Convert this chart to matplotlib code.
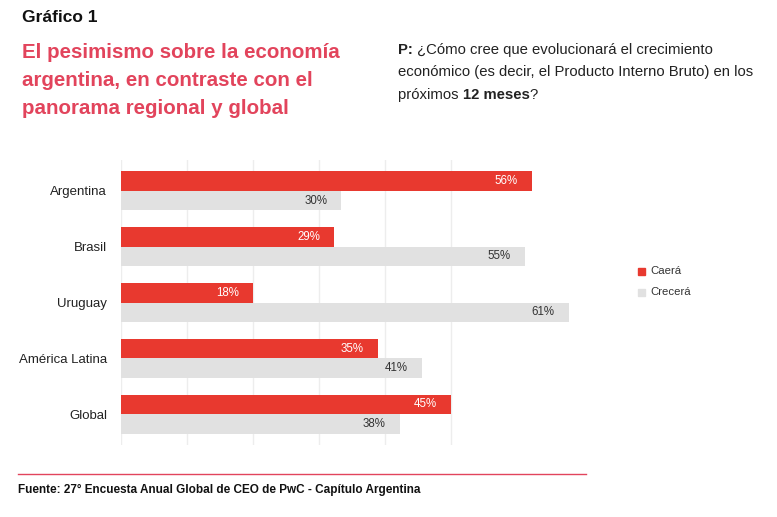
import matplotlib.pyplot as plt
import numpy as np

plt.rcParams['font.family'] = ['Liberation Sans', 'DejaVu Sans']

# Data
paises = ["Argentina", "Brasil", "Uruguay", "América Latina", "Global"]
caera = [56, 29, 18, 35, 45]
crecera = [30, 55, 61, 41, 38]

rojo = "#e8392f"
gris = "#e1e1e1"
rosa = "#e2445c"

fig = plt.figure(figsize=(7.77, 5.17), dpi=100)
ax = fig.add_axes([121 / 777, 1 - 445 / 517, 499 / 777, 285 / 517])

y = np.arange(len(paises))
h = 0.35
ax.barh(y - h / 2, caera, height=h, color=rojo, zorder=2)
ax.barh(y + h / 2, crecera, height=h, color=gris, zorder=2)

for i in range(len(paises)):
    ax.text(caera[i] - 1.9, y[i] - h / 2, f"{caera[i]}%", ha="right", va="center",
            color="white", fontsize=8.3, zorder=3)
    ax.text(crecera[i] - 1.9, y[i] + h / 2, f"{crecera[i]}%", ha="right", va="center",
            color="#333333", fontsize=8.3, zorder=3)

ax.set_xlim(0, 68)
ax.set_ylim(len(paises) - 0.45, -0.55)
ax.set_yticks(y)
ax.set_yticklabels(paises, fontsize=9.5, color="#222222")
ax.set_xticks(np.arange(0, 46, 9))
ax.set_xticklabels([])
ax.tick_params(length=0, axis="both", pad=17)
ax.tick_params(axis="y", pad=17 - 7)
ax.grid(axis="x", color="#ededed", linewidth=1, zorder=0)
for s in ax.spines.values():
    s.set_visible(False)

# Legend
fig.patches.append(plt.Rectangle((638 / 777, 1 - 275 / 517), 7 / 777, 7 / 517,
                                 transform=fig.transFigure, color=rojo))
fig.patches.append(plt.Rectangle((638 / 777, 1 - 296 / 517), 7 / 777, 7 / 517,
                                 transform=fig.transFigure, color=gris))
fig.text(650 / 777, 1 - 271 / 517, "Caerá", fontsize=8.2, va="center", color="#333333")
fig.text(650 / 777, 1 - 292 / 517, "Crecerá", fontsize=8.2, va="center", color="#333333")

# Titles
fig.text(22 / 777, 1 - 18 / 517, "Gráfico 1", fontsize=12.5, fontweight="bold",
         va="center", color="#111111")
for k, linea in enumerate(["El pesimismo sobre la economía",
                           "argentina, en contraste con el",
                           "panorama regional y global"]):
    fig.text(22 / 777, 1 - (52 + 28 * k) / 517, linea, fontsize=14.8, fontweight="bold",
             va="center", color=rosa)

fig.canvas.draw()
renderer = fig.canvas.get_renderer()


def texto_mixto(x_px, y_px, partes, size=10.7):
    x = x_px
    for txt, peso in partes:
        t = fig.text(x / 777, 1 - y_px / 517, txt, fontsize=size, fontweight=peso,
                     va="center", color="#222222")
        x += t.get_window_extent(renderer).width


texto_mixto(398, 50, [("P: ", "bold"), ("¿Cómo cree que evolucionará el crecimiento", "normal")])
texto_mixto(398, 72, [("económico (es decir, el Producto Interno Bruto) en los", "normal")])
texto_mixto(398, 95, [("próximos ", "normal"), ("12 meses", "bold"), ("?", "normal")])

# Footer
fig.add_artist(plt.Line2D([18 / 777, 586 / 777], [1 - 474 / 517, 1 - 474 / 517],
                          transform=fig.transFigure, color=rosa, linewidth=1))
fig.text(18 / 777, 1 - 490 / 517, "Fuente: 27° Encuesta Anual Global de CEO de PwC - Capítulo Argentina",
         fontsize=8.5, fontweight="bold", va="center", color="#111111")

fig.savefig("out.png", dpi=100)
